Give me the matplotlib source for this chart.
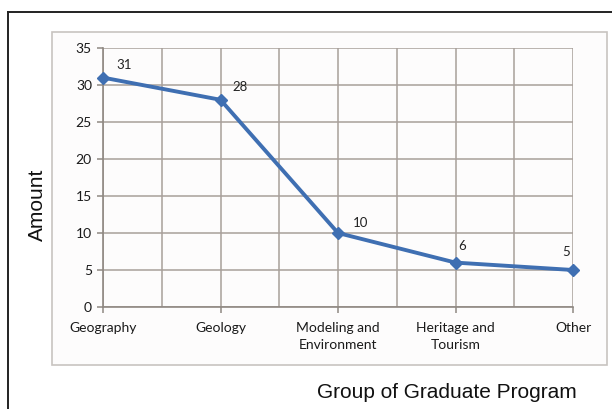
import matplotlib
matplotlib.use("Agg")
from matplotlib import pyplot as plt
from matplotlib.patches import Rectangle
from matplotlib.lines import Line2D

categories = ["Geography", "Geology", "Modeling and\nEnvironment", "Heritage and\nTourism", "Other"]
amounts = [31, 28, 10, 6, 5]
y_ticks = [0, 5, 10, 15, 20, 25, 30, 35]
# label offsets in points (dx, dy)
label_offsets = [(15, 9), (14, 9), (16, 7), (5, 12), (-5, 13)]

grid_col = "#a8a09a"
line_col = "#3f6fb2"
tick_font = "Lato"

fig = plt.figure(figsize=(6.12, 4.09), dpi=100)

# outer black frame (cut at right and bottom)
fig.add_artist(Line2D([8/612, 8/612], [0, 1 - 12/409], transform=fig.transFigure, color="#222222", lw=1.4))
fig.add_artist(Line2D([8/612, 1], [1 - 12/409, 1 - 12/409], transform=fig.transFigure, color="#222222", lw=1.4))

# chart area box
box = Rectangle((52/612, 1 - 365/409), (607 - 52)/612, (365 - 32)/409,
                transform=fig.transFigure, facecolor="#fdfcfc", edgecolor="#c8c4c0", lw=1.2, zorder=-5)
fig.add_artist(box)

ax = fig.add_axes([103/612, 1 - 307/409, (573 - 103)/612, (307 - 48)/409])
ax.set_facecolor("none")
x = list(range(len(categories)))
ax.set_xlim(0, len(categories) - 1)
ax.set_ylim(0, 35)

# vertical gridlines at categories and midpoints
for gx in [i * 0.5 for i in range(2 * (len(categories) - 1) + 1)]:
    ax.axvline(gx, color=grid_col, lw=1.1, zorder=1)
for gy in y_ticks:
    ax.axhline(gy, color=grid_col, lw=1.1, zorder=1)

ax.plot(x, amounts, color=line_col, lw=2.8, marker="D", markersize=6.5, zorder=3, clip_on=False)

for xi, yi, (dx, dy) in zip(x, amounts, label_offsets):
    ax.annotate(str(yi), (xi, yi), xytext=(dx, dy), textcoords="offset points",
                ha="center", va="center", fontsize=9.5, family=tick_font, color="#222222")

for s in ["top", "right"]:
    ax.spines[s].set_visible(False)
for s in ["left", "bottom"]:
    ax.spines[s].set_color("#8f8882")
    ax.spines[s].set_linewidth(1.2)

ax.set_yticks(y_ticks)
ax.set_xticks(x)
ax.set_xticklabels(categories, fontsize=10, family=tick_font, color="#1a1a1a", linespacing=1.45)
ax.tick_params(axis="y", labelsize=10, length=4, width=1.1, color="#8f8882", labelcolor="#1a1a1a", pad=4)
ax.tick_params(axis="x", length=4, width=1.1, color="#8f8882", pad=7)
for lab in ax.get_yticklabels():
    lab.set_family(tick_font)
for lab in ax.get_xticklabels():
    lab.set_verticalalignment("top")

fig.text(37/612, 1 - 205/409, "Amount", rotation=90, ha="center", va="center",
         fontsize=15, family="Liberation Sans", color="#111111")
fig.text(447/612, 1 - 393/409, "Group of Graduate Program", ha="center", va="center",
         fontsize=15, family="Liberation Sans", color="#111111")

fig.savefig("out.png", dpi=100)
